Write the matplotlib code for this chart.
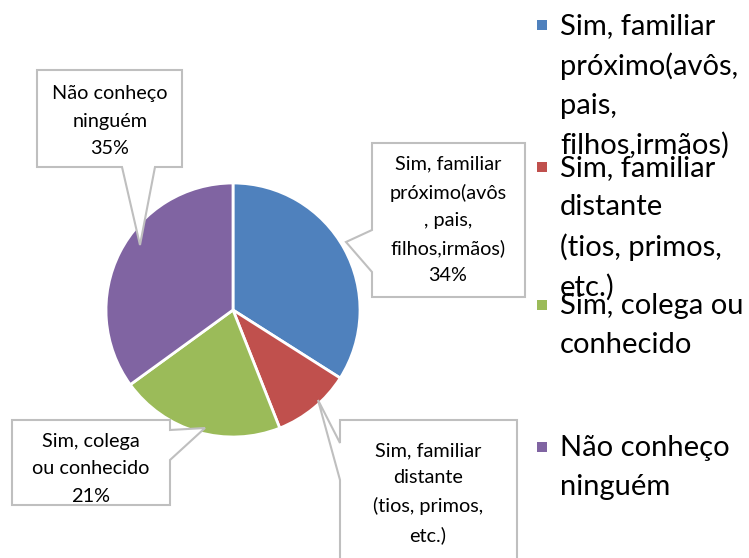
import matplotlib.pyplot as plt
from matplotlib.patches import Polygon, Rectangle

# dados
categorias = ["Sim, familiar próximo(avôs, pais, filhos,irmãos)",
              "Sim, familiar distante (tios, primos, etc.)",
              "Sim, colega ou conhecido",
              "Não conheço ninguém"]
valores = [34, 10, 21, 35]
cores = ["#4F81BD", "#C0504D", "#9BBB59", "#8064A2"]

# texto das caixas e da legenda (quebras como no original)
rotulos = ["Sim, familiar\npróximo(avôs\n, pais,\nfilhos,irmãos)",
           "Sim, familiar\ndistante\n(tios, primos,\netc.)",
           "Sim, colega\nou conhecido",
           "Não conheço\nninguém"]
legenda = ["Sim, familiar\npróximo(avôs,\npais,\nfilhos,irmãos)",
           "Sim, familiar\ndistante\n(tios, primos,\netc.)",
           "Sim, colega ou\nconhecido",
           "Não conheço\nninguém"]
# a caixa do vermelho fica cortada na borda: o percentual nao aparece
mostra_pct = [True, False, True, True]

plt.rcParams['font.family'] = ['Lato', 'DejaVu Sans']

W, H = 749, 558
fig = plt.figure(figsize=(W / 100, H / 100), dpi=100)
ax = fig.add_axes([0, 0, 1, 1])

cx, cy, r = 233, H - 310, 127
ax.pie(valores, colors=cores, startangle=90, counterclock=False,
       center=(cx, cy), radius=r, frame=True,
       wedgeprops=dict(edgecolor='white', linewidth=2))
ax.set_xlim(0, W)
ax.set_ylim(0, H)
ax.axis('off')


def py(y):
    return H - y


# caixas com ponteiro (coordenadas em pixels, y de cima para baixo)
caixas = [
    [(372, 143), (525, 143), (525, 297), (372, 297), (372, 272), (346, 242), (372, 230)],
    [(340, 420), (517, 420), (517, 600), (340, 600), (340, 480), (318, 400), (340, 443)],
    [(12, 420), (170, 420), (170, 430), (205, 428), (170, 460), (170, 505), (12, 505)],
    [(37, 70), (182, 70), (182, 167), (155, 167), (140, 245), (122, 167), (37, 167)],
]
centros = [(448, 220), (428, 493), (91, 469), (110, 121)]

for i in range(4):
    pts = [(x, py(y)) for x, y in caixas[i]]
    ax.add_patch(Polygon(pts, closed=True, facecolor='white', edgecolor='#BFBFBF',
                         linewidth=1.5, zorder=3))
    txt = rotulos[i]
    if mostra_pct[i]:
        txt += "\n" + str(valores[i]) + "%"
    ax.text(centros[i][0], py(centros[i][1]), txt, ha='center', va='center',
            fontsize=14.3, linespacing=1.72, color='black', zorder=4)

# legenda manual
topo = [25, 167, 305, 447]
for i in range(4):
    ax.add_patch(Rectangle((537, py(topo[i]) - 5), 10, 10, facecolor=cores[i],
                           edgecolor='none', zorder=3))
    ax.text(560, py(topo[i]) + 12, legenda[i], ha='left', va='top',
            fontsize=21, linespacing=1.6, color='black', zorder=4)

fig.savefig("out.png", dpi=100)
